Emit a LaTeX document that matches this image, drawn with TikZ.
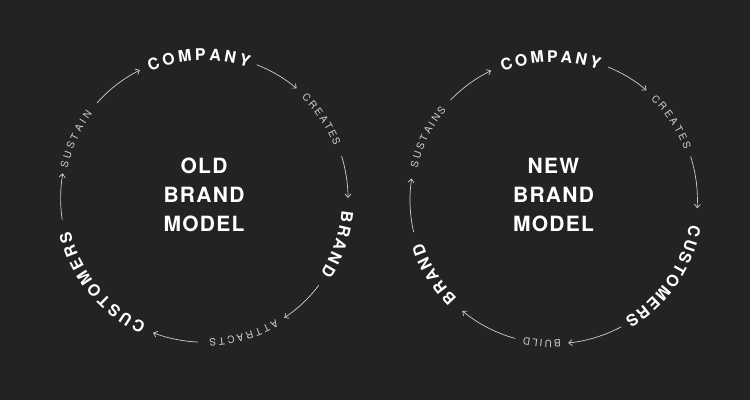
\documentclass[tikz,border=0pt]{standalone}
\usepackage{fontspec}
\setmainfont{TeX Gyre Heros}
\newfontfamily\titlefont{TeX Gyre Heros}[LetterSpace=6]
\usetikzlibrary{decorations.text,arrows.meta}
\definecolor{bg}{HTML}{242222}
\definecolor{soft}{HTML}{D0CECE}
\tikzset{
	biglabel/.style={decorate, decoration={text along path, text align=fit to path, raise=-5.7pt, text color=white,
		text={|\bfseries\fontsize{16}{16}\selectfont|#1}}},
	smalllabel/.style={decorate, decoration={text along path, text align=fit to path, raise=-3.6pt, text color=soft,
		text={|\fontsize{10}{10}\selectfont|#1}}},
	flow/.style={draw=soft, line width=0.7pt, -{Straight Barb[length=3.5pt,width=6pt]}},
	model/.style={align=center, text=white, font=\titlefont\bfseries\fontsize{21}{29}\selectfont}
}
\begin{document}
\begin{tikzpicture}[x=1pt,y=1pt]
	\fill[bg] (0,0) rectangle (750,400); %background

	\coordinate (oldc) at (204.3,201.5);
	\coordinate (newc) at (553.7,200);

	% old model
	\node[model] (oldmodel) at (204,205) {OLD\\BRAND\\MODEL};
	\path[biglabel=COMPANY] (oldc) ++(113:143.7pt) arc[start angle=113, end angle=71.5, radius=143.7pt];
	\path[smalllabel=CREATES] (oldc) ++(46:143.7pt) arc[start angle=46, end angle=22, radius=143.7pt];
	\path[biglabel=BRAND] (oldc) ++(-5.2:143.7pt) arc[start angle=-5.2, end angle=-32.6, radius=143.7pt];
	\path[smalllabel=ATTRACTS] (oldc) ++(-59.4:143.7pt) arc[start angle=-59.4, end angle=-88, radius=143.7pt];
	\path[biglabel=CUSTOMERS] (oldc) ++(245.1:143.7pt) arc[start angle=245.1, end angle=193.8, radius=143.7pt];
	\path[smalllabel=SUSTAIN] (oldc) ++(167.6:143.7pt) arc[start angle=167.6, end angle=143, radius=143.7pt];
	\draw[flow] (oldc) ++(68.6:143.7pt) arc[start angle=68.6, end angle=50, radius=143.7pt]; %company-creates
	\draw[flow] (oldc) ++(17.1:143.7pt) arc[start angle=17.1, end angle=0.2, radius=143.7pt]; %creates-brand
	\draw[flow] (oldc) ++(-37.2:143.7pt) arc[start angle=-37.2, end angle=-56.2, radius=143.7pt]; %brand-attracts
	\draw[flow] (oldc) ++(-92.5:143.7pt) arc[start angle=-92.5, end angle=-110.9, radius=143.7pt]; %attracts-customers
	\draw[flow] (oldc) ++(188.5:143.7pt) arc[start angle=188.5, end angle=169.9, radius=143.7pt]; %customers-sustain
	\draw[flow] (oldc) ++(138.3:143.7pt) arc[start angle=138.3, end angle=116.6, radius=143.7pt]; %sustain-company

	% new model
	\node[model] (newmodel) at (553.5,205) {NEW\\BRAND\\MODEL};
	\path[biglabel=COMPANY] (newc) ++(111.5:143.7pt) arc[start angle=111.5, end angle=71, radius=143.7pt];
	\path[smalllabel=CREATES] (newc) ++(46:143.7pt) arc[start angle=46, end angle=21, radius=143.7pt];
	\path[biglabel=CUSTOMERS] (newc) ++(-10.5:143.7pt) arc[start angle=-10.5, end angle=-59, radius=143.7pt];
	\path[smalllabel=BUILD] (newc) ++(-87.2:143.7pt) arc[start angle=-87.2, end angle=-102.3, radius=143.7pt];
	\path[biglabel=BRAND] (newc) ++(225.6:143.7pt) arc[start angle=225.6, end angle=198.3, radius=143.7pt];
	\path[smalllabel=SUSTAINS] (newc) ++(166.8:143.7pt) arc[start angle=166.8, end angle=140, radius=143.7pt];
	\draw[flow] (newc) ++(67.7:143.7pt) arc[start angle=67.7, end angle=49.8, radius=143.7pt]; %company-creates
	\draw[flow] (newc) ++(17.6:143.7pt) arc[start angle=17.6, end angle=-3.3, radius=143.7pt]; %creates-customers
	\draw[flow] (newc) ++(-61.9:143.7pt) arc[start angle=-61.9, end angle=-84.2, radius=143.7pt]; %customers-build
	\draw[flow] (newc) ++(-105.5:143.7pt) arc[start angle=-105.5, end angle=-129.5, radius=143.7pt]; %build-brand
	\draw[flow] (newc) ++(192.9:143.7pt) arc[start angle=192.9, end angle=171.4, radius=143.7pt]; %brand-sustains
	\draw[flow] (newc) ++(136:143.7pt) arc[start angle=136, end angle=115.8, radius=143.7pt]; %sustains-company
\end{tikzpicture}
\end{document}
